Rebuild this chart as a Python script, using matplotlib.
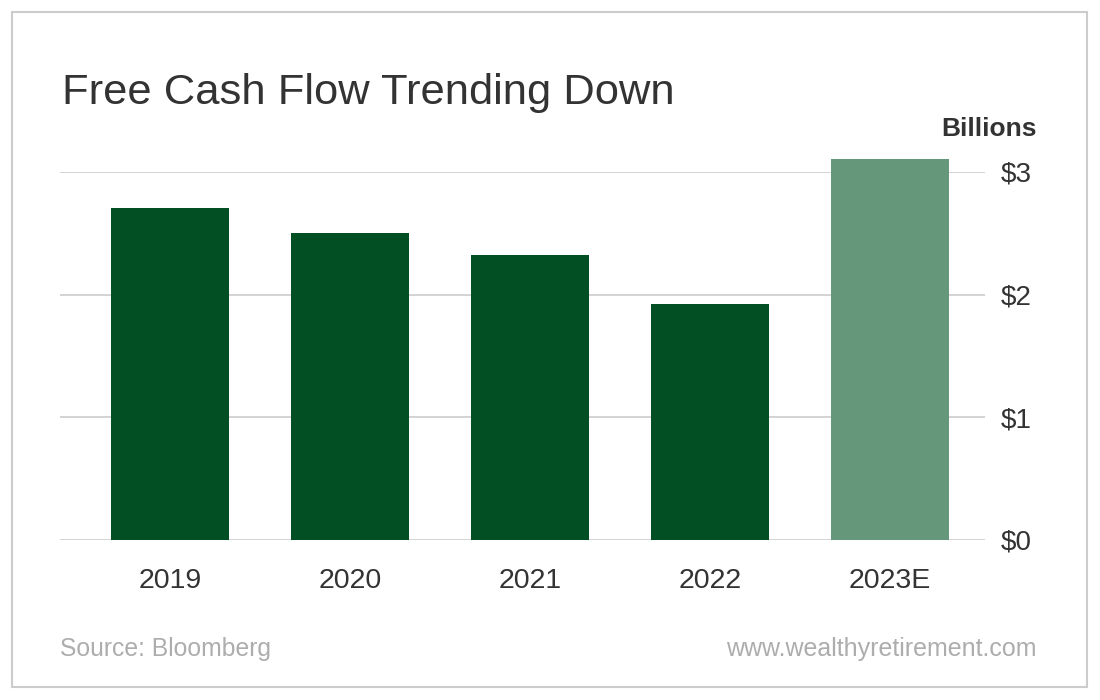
import matplotlib
matplotlib.use("Agg")
import matplotlib.pyplot as plt
from matplotlib.patches import Rectangle

categories = ["2019", "2020", "2021", "2022", "2023E"]
values = [2.71, 2.50, 2.32, 1.92, 3.11]
bar_colors = ["#024F23", "#024F23", "#024F23", "#024F23", "#65977A"]
yticks = [0, 1, 2, 3]
ytick_labels = ["$0", "$1", "$2", "$3"]

plt.rcParams['font.family'] = ['Liberation Sans', 'DejaVu Sans']

W, H = 1100, 700
fig = plt.figure(figsize=(11, 7), dpi=100)
fig.patch.set_facecolor("white")

# border
fig.patches.append(Rectangle((12 / W, 13 / H), 1075 / W, 675 / H, transform=fig.transFigure,
                             fill=False, edgecolor="#CCCCCC", linewidth=1.5))

ax_l, ax_r = 60, 985
ax_b, ax_t = 540, 172
ax = fig.add_axes([ax_l / W, 1 - ax_b / H, (ax_r - ax_l) / W, (ax_b - ax_t) / H])
ax.set_ylim(0, 3)
x = list(range(len(categories)))
ax.bar(x, values, width=0.656, color=bar_colors, zorder=3)
ax.set_xlim(-0.611, 4.528)
for b in ax.patches:
    b.set_clip_on(False)

ax.set_yticks(yticks)
ax.set_yticklabels(ytick_labels)
ax.yaxis.tick_right()
ax.grid(axis="y", color="#CCCCCC", linewidth=1.2, zorder=0)
ax.tick_params(axis="y", length=0, pad=11, labelsize=20, labelcolor="#333333")
ax.set_xticks(x)
ax.set_xticklabels(categories)
ax.tick_params(axis="x", length=0, pad=20, labelsize=20.5, labelcolor="#333333")
for s in ax.spines.values():
    s.set_visible(False)

fig.text(62 / W, 1 - 104 / H, "Free Cash Flow Trending Down", fontsize=31.3,
         color="#333333", ha="left", va="baseline")
fig.text(1037 / W, 1 - 136 / H, "Billions", fontsize=19, fontweight="bold",
         color="#333333", ha="right", va="baseline")
fig.text(60 / W, 1 - 656 / H, "Source: Bloomberg", fontsize=17.8,
         color="#ADADAD", ha="left", va="baseline")
fig.text(1037 / W, 1 - 656 / H, "www.wealthyretirement.com", fontsize=18,
         color="#ADADAD", ha="right", va="baseline")

fig.savefig("out.png", dpi=100, facecolor="white")
